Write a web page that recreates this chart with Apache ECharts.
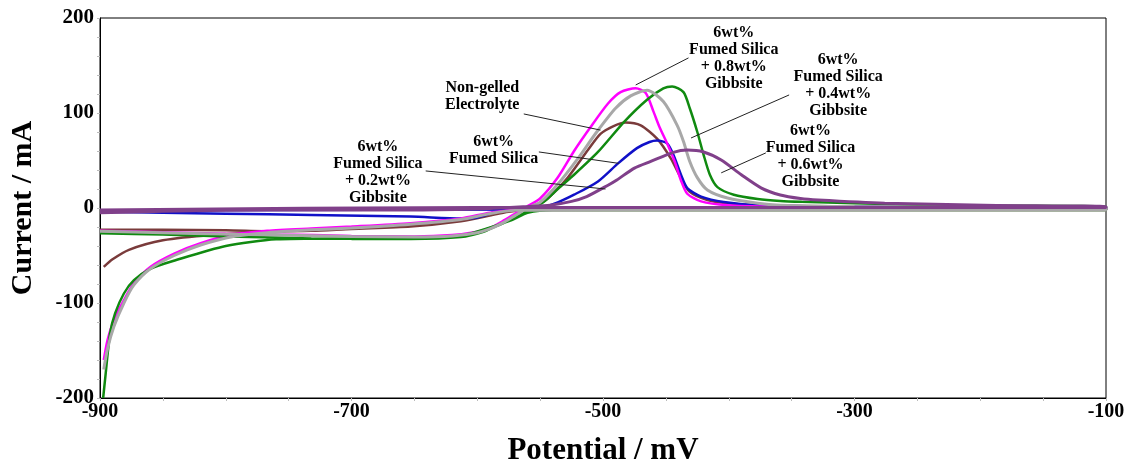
<!DOCTYPE html>
<html>
<head>
<meta charset="utf-8">
<script src="https://cdn.jsdelivr.net/npm/echarts@6/dist/echarts.min.js"></script>
<style>html,body{margin:0;padding:0;background:#fff}#c{width:1124px;height:461px}</style>
</head>
<body>
<div id="c"></div>
<script>
// ---- data: [potential mV, current mA] in scan order ----
const xTicks = [-900, -700, -500, -300, -100];
const yTicks = [-200, -100, 0, 100, 200];

const nonGelled = [[-900,-23],[-850,-23],[-800,-23.5],[-760,-24.5],[-732,-24],[-700,-22],[-653,-19.5],[-613,-14],[-590,-8],[-575,-3],[-560,-0.5],[-550,5],[-544,10],[-528,32],[-512,61],[-502,78],[-492,86],[-482,90],[-470,87],[-457,73],[-446,52],[-438,31.5],[-431,17],[-417,8.4],[-401,5],[-380,3],[-300,1.5],[-100,0.5],
  [-100,-2],[-300,-2],[-500,-2],[-560,-2],[-575,-4],[-600,-10],[-653,-18],[-700,-21.5],[-760,-25],[-811,-28.4],[-850,-34],[-877,-44],[-890,-54],[-897,-62]];

const fumedSilica = [[-900,-4],[-850,-5],[-800,-6],[-732,-7.4],[-653,-9],[-613,-11],[-600,-10],[-590,-6],[-584,-2],[-570,-0.5],[-550,0.5],[-536,6],[-523,14],[-504,28],[-488,47],[-473,63],[-463,69.5],[-457,71],[-449,68],[-444,56],[-438,35],[-433,21],[-422,12],[-404,6.3],[-377,3],[-300,1.5],[-100,0.5],
  [-100,-1.5],[-500,-1.5],[-900,-2.5]];

const gibbsite02 = [[-900,-26.5],[-850,-28],[-800,-30],[-760,-31],[-732,-32],[-700,-32.5],[-653,-32.5],[-613,-30.5],[-595,-25],[-585,-19],[-573,-12.6],[-560,-3],[-547,6.6],[-536,20],[-523,35],[-504,59],[-483,91],[-465,114],[-452,126],[-445,128],[-436,122],[-431,105],[-425,80],[-420,56],[-415,35],[-409,22],[-396,14],[-377,9.5],[-359,7.4],[-342,6.5],[-300,5],[-250,3.5],[-200,2.5],[-100,1.5],
  [-100,-2],[-300,-2],[-540,-2],[-560,-5],[-573,-13],[-613,-29],[-653,-31.5],[-700,-32],[-760,-33],[-800,-40],[-840,-55],[-860,-64],[-873,-76],[-881,-90],[-888,-111],[-892,-132],[-896,-181],[-897.5,-200]];

const gibbsite04 = [[-900,-24.5],[-850,-26],[-800,-27.5],[-760,-28.5],[-700,-30],[-650,-30.5],[-620,-29.5],[-600,-26],[-590,-22],[-580,-16],[-570,-8],[-560,0],[-550,6],[-536,25],[-520,52],[-505,80],[-490,105],[-478,118],[-465,124],[-452,112],[-441,87],[-436,70],[-431,49],[-425,32],[-417,19],[-401,10.5],[-377,5],[-359,3],[-300,1.5],[-200,1],[-100,0.5],
  [-100,-2],[-300,-2],[-500,-2],[-570,-2.5],[-590,-6],[-613,-12],[-653,-17],[-700,-21],[-732,-23],[-767,-26],[-794,-30],[-820,-39],[-841,-50],[-860,-64],[-873,-81],[-881,-100],[-889,-125],[-894,-148],[-897,-170]];

const gibbsite06 = [[-900,-5],[-850,-3.5],[-800,-2.5],[-732,-2],[-653,-2],[-600,-1],[-581,0],[-560,1.5],[-542,3],[-525,7],[-513,12],[-496,24],[-489,29.5],[-475,42],[-462,49],[-444,58.5],[-433,61],[-420,59],[-406,50.5],[-390,35],[-374,21],[-359,13.7],[-343,10],[-329,8.4],[-276,5],[-197,3],[-100,1.5],
  [-100,0.5],[-600,0.5],[-900,-2]];

const gibbsite08 = [[-900,-24],[-850,-25.5],[-800,-27],[-760,-28],[-730,-28.5],[-700,-29.5],[-650,-30],[-620,-28.5],[-600,-25],[-590,-21],[-580,-14],[-570,-6],[-560,2],[-550,10],[-536,32],[-523,60],[-510,85],[-496,110],[-486,122],[-474,126],[-466,121],[-460,102],[-455,85],[-449,68],[-443,49],[-438,29],[-433,15],[-422,7],[-401,3],[-364,1.5],[-300,1],[-200,0.5],[-100,0],
  [-100,-1.5],[-300,-1.5],[-500,-1.5],[-570,-2],[-590,-5],[-613,-11],[-653,-16],[-700,-19.5],[-732,-21.5],[-767,-24],[-794,-28],[-820,-37],[-841,-48],[-860,-62],[-873,-79],[-881,-97],[-889,-118],[-894,-139],[-897,-160]];

// annotation texts, anchor (text centre) and leader line endpoints, in data units
const annoTexts = [
  '6wt%\nFumed Silica\n+ 0.8wt%\nGibbsite',
  'Non-gelled\nElectrolyte',
  '6wt%\nFumed Silica',
  '6wt%\nFumed Silica\n+ 0.2wt%\nGibbsite',
  '6wt%\nFumed Silica\n+ 0.4wt%\nGibbsite',
  '6wt%\nFumed Silica\n+ 0.6wt%\nGibbsite'
];
const annoAt   = [[-396,157],[-596,117],[-587,61],[-679,38],[-313,129.5],[-335,54]];
const annoFrom = [[-432,158],[-563,99],[-551,59],[-641,39],[-352,119],[-370.5,58]];
const annoTo   = [[-474,129.5],[-502,82],[-487.5,47],[-498,20],[-430,73.7],[-406,37]];

const SERIF = '"Liberation Serif","Times New Roman",serif';

const chart = echarts.init(document.getElementById('c'), null, {renderer:'canvas'});

function mk(name, data, color, width, z) {
  return {
    name, type:'line', data, showSymbol:false, symbol:'none', smooth:0.25,
    lineStyle:{color, width}, itemStyle:{color}, z, animation:false
  };
}

chart.setOption({
  animation:false,
  backgroundColor:'#fff',
  grid:{left:100, right:18, top:18, bottom:63, containLabel:false, outerBoundsMode:'none',
    show:true, borderColor:'#000', borderWidth:1, backgroundColor:'transparent'},
  xAxis:{
    type:'value', min:xTicks[0], max:xTicks[xTicks.length-1], interval:200,
    name:'Potential / mV', nameLocation:'middle', nameGap:37,
    nameTextStyle:{fontFamily:SERIF, fontWeight:'bold', fontSize:31, color:'#000'},
    axisLine:{show:true, onZero:false, lineStyle:{color:'#000', width:1}},
    axisTick:{show:true, length:3, lineStyle:{color:'#bbb'}},
    minorTick:{show:true, splitNumber:4, length:3, lineStyle:{color:'#bbb'}},
    splitLine:{show:false},
    axisLabel:{fontFamily:SERIF, fontWeight:'bold', fontSize:20, color:'#000', margin:4}
  },
  yAxis:{
    type:'value', min:yTicks[0], max:yTicks[yTicks.length-1], interval:100,
    name:'Current / mA', nameLocation:'middle', nameGap:62,
    nameTextStyle:{fontFamily:SERIF, fontWeight:'bold', fontSize:30, color:'#000'},
    axisLine:{show:true, onZero:false, lineStyle:{color:'#000', width:1}},
    axisTick:{show:true, length:3, lineStyle:{color:'#bbb'}},
    minorTick:{show:true, splitNumber:5, length:3, lineStyle:{color:'#bbb'}},
    splitLine:{show:false},
    axisLabel:{fontFamily:SERIF, fontWeight:'bold', fontSize:21, color:'#000', margin:6}
  },
  series:[
    mk('Non-gelled Electrolyte', nonGelled, '#7a3b3b', 2.5, 2),
    mk('6wt% Fumed Silica', fumedSilica, '#1010c8', 2.5, 3),
    mk('6wt% Fumed Silica + 0.8wt% Gibbsite', gibbsite08, '#ff00ff', 2.5, 4),
    mk('6wt% Fumed Silica + 0.2wt% Gibbsite', gibbsite02, '#108a10', 2.5, 5),
    mk('6wt% Fumed Silica + 0.4wt% Gibbsite', gibbsite04, '#a8a8a8', 3, 6),
    mk('6wt% Fumed Silica + 0.6wt% Gibbsite', gibbsite06, '#80408a', 3, 7)
  ]
});

// annotations placed through the axes' own scales
const g = [];
for (let i = 0; i < annoTexts.length; i++) {
  const p = chart.convertToPixel({gridIndex:0}, annoAt[i]);
  const a = chart.convertToPixel({gridIndex:0}, annoFrom[i]);
  const b = chart.convertToPixel({gridIndex:0}, annoTo[i]);
  g.push({type:'line', z:100, shape:{x1:a[0], y1:a[1], x2:b[0], y2:b[1]}, style:{stroke:'#222', lineWidth:1}});
  g.push({type:'text', z:100, style:{text:annoTexts[i], x:p[0], y:p[1], align:'center', verticalAlign:'middle',
    fontFamily:SERIF, fontWeight:'bold', fontSize:16, lineHeight:17, fill:'#000'}});
}
chart.setOption({graphic:g});
</script>
</body>
</html>
